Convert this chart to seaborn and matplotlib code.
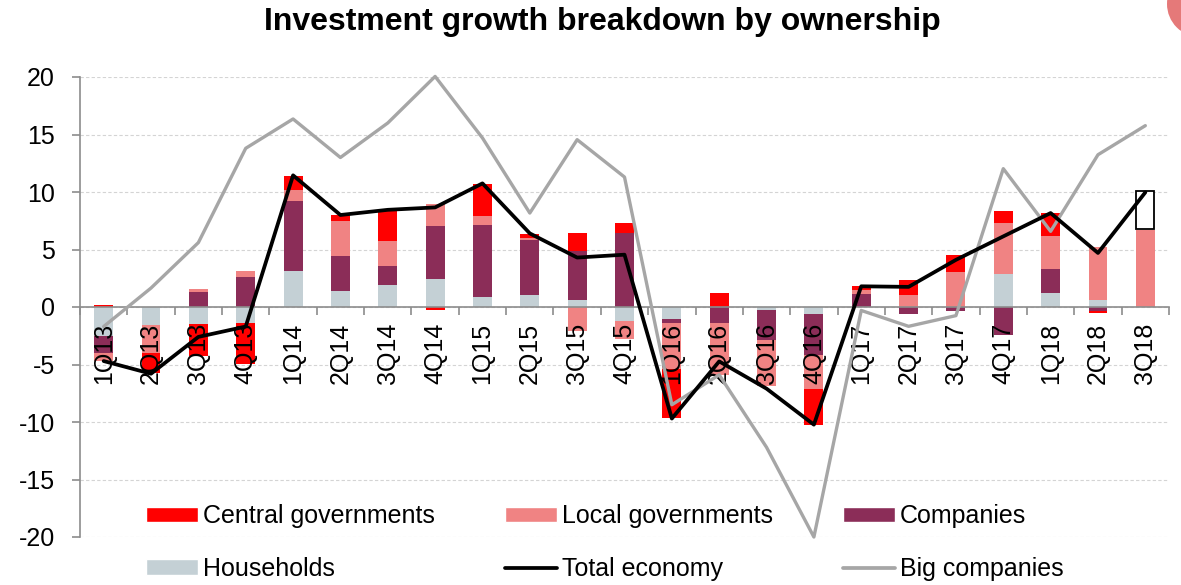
import numpy as np
import matplotlib
matplotlib.use("Agg")
import matplotlib.pyplot as plt
from matplotlib.patches import Patch, Ellipse
from matplotlib.lines import Line2D
from matplotlib.ticker import FixedLocator, MultipleLocator
import seaborn as sns

# Quarterly investment growth contributions (percentage points)
quarters = ["1Q13", "2Q13", "3Q13", "4Q13", "1Q14", "2Q14", "3Q14", "4Q14",
            "1Q15", "2Q15", "3Q15", "4Q15", "1Q16", "2Q16", "3Q16", "4Q16",
            "1Q17", "2Q17", "3Q17", "4Q17", "1Q18", "2Q18", "3Q18"]

central_gov = [0.15, -1.75, -2.75, -3.6, 1.22, 0.55, 2.64, -0.29,
               2.81, 0.38, 1.59, 0.84, -4.2, 1.2, 0.0, -3.1,
               0.35, 1.3, 1.45, 1.04, 2.03, -0.15, 0.0]
local_gov = [-0.72, -2.45, 0.32, 0.58, 1.01, 2.99, 2.17, 1.94,
             0.81, 0.2, -2.1, -1.5, -4.06, -4.55, -4.06, -2.99,
             0.38, 1.01, 3.04, 4.43, 2.84, 4.55, 6.72]
companies = [-1.45, 0.0, 1.28, 2.58, 6.06, 3.04, 1.65, 4.58,
             6.26, 4.78, 4.26, 6.43, -0.35, -1.39, -2.6, -3.57,
             1.13, -0.61, -0.38, -2.41, 2.12, -0.38, 0.0]
households = [-2.55, -1.55, -1.48, -1.39, 3.13, 1.42, 1.94, 2.43,
              0.84, 1.01, 0.58, -1.25, -1.01, 0.0, -0.23, -0.58,
              0.0, 0.0, 0.0, 2.9, 1.19, 0.64, 0.0]

total_economy = [-4.7, -5.8, -2.6, -1.7, 11.45, 8.0, 8.45, 8.66,
                 10.75, 6.4, 4.3, 4.55, -9.7, -4.73, -7.1, -10.23,
                 1.8, 1.75, 4.1, 6.14, 8.17, 4.7, 9.97]
big_companies = [-1.7, 1.65, 5.6, 13.8, 16.35, 13.0, 16.0, 20.05,
                 14.7, 8.17, 14.55, 11.3, -8.5, -5.9, -12.2, -20.0,
                 -0.3, -1.68, -0.75, 12.03, 6.58, 13.24, 15.77]

y_ticks = [-20, -15, -10, -5, 0, 5, 10, 15, 20]

# Stacking order from the axis outwards, with colours and legend names
components = [
    ("Households", households, "#c4d0d5"),
    ("Companies", companies, "#8b2d58"),
    ("Local governments", local_gov, "#f08383"),
    ("Central governments", central_gov, "#ff0000"),
]

sns.set_theme(style="white")
plt.rcParams["font.family"] = ["Liberation Sans", "DejaVu Sans"]
plt.rcParams["font.size"] = 18
for key in ("text.color", "axes.labelcolor", "xtick.color", "ytick.color"):
    plt.rcParams[key] = "black"

fig = plt.figure(figsize=(11.81, 5.85), dpi=100)
ax = fig.add_axes([80 / 1181, 48 / 585, 1089 / 1181, 460 / 585])

x = np.arange(len(quarters))
bar_w = 0.40
pos_base = np.zeros(len(quarters))
neg_base = np.zeros(len(quarters))
for name, vals, color in components:
    v = np.asarray(vals, dtype=float)
    pos = np.where(v > 0, v, 0.0)
    neg = np.where(v < 0, v, 0.0)
    ax.bar(x, pos, bottom=pos_base, width=bar_w, color=color, linewidth=0, zorder=1)
    ax.bar(x, neg, bottom=neg_base, width=bar_w, color=color, linewidth=0, zorder=1)
    pos_base += pos
    neg_base += neg

# Part of the latest total not yet broken down by owner
last = len(quarters) - 1
ax.bar(x[last], total_economy[last] - pos_base[last], bottom=pos_base[last] + 0.1,
       width=bar_w * 0.95, facecolor="white", edgecolor="black", linewidth=1.3, zorder=1.5)

sns.lineplot(x=x, y=big_companies, ax=ax, color="#a6a6a6", linewidth=2.4,
             zorder=3, clip_on=False)
sns.lineplot(x=x, y=total_economy, ax=ax, color="black", linewidth=2.7,
             zorder=4, clip_on=False)

ax.set_xlim(-0.5, len(quarters) - 0.5)
ax.set_ylim(-20, 20)
ax.yaxis.set_major_locator(FixedLocator(y_ticks))
ax.set_yticklabels([str(t) for t in y_ticks])
ax.set_xticks(x)
ax.set_xticklabels(quarters)
ax.xaxis.set_minor_locator(MultipleLocator(1, offset=0.5))

for side in ("top", "right"):
    ax.spines[side].set_visible(False)
ax.spines["bottom"].set_position(("data", 0))
for side in ("left", "bottom"):
    ax.spines[side].set_color("#8c8c8c")
    ax.spines[side].set_linewidth(1.2)
    ax.spines[side].set_zorder(2)

ax.tick_params(axis="y", which="major", direction="out", length=6, width=1.2,
               color="#8c8c8c", pad=12, labelsize=18, left=True, labelcolor="black")
ax.tick_params(axis="x", which="major", length=0, pad=11.5, labelsize=18,
               labelrotation=90, labelcolor="black")
ax.tick_params(axis="x", which="minor", direction="out", length=6, width=1.2,
               color="#8c8c8c", bottom=True)

ax.yaxis.grid(True, color="#d4d4d4", linestyle=(0, (3, 2)), linewidth=0.8)
ax.xaxis.grid(False)
ax.set_axisbelow(True)
# quarter labels sit over the bars but under the lines
ax.xaxis.set_zorder(2.5)
ax.set_xlabel("")
ax.set_ylabel("")

fig.text(602 / 1181, 1 - 22 / 585, "Investment growth breakdown by ownership",
         ha="center", va="center", fontsize=23, fontweight="bold", color="black")

# Legend: row-wise reading order in a three-column layout
h_central = Patch(facecolor="#ff0000", label="Central governments")
h_local = Patch(facecolor="#f08383", label="Local governments")
h_comp = Patch(facecolor="#8b2d58", label="Companies")
h_house = Patch(facecolor="#c4d0d5", label="Households")
h_total = Line2D([], [], color="black", linewidth=2.7, label="Total economy")
h_big = Line2D([], [], color="#a6a6a6", linewidth=2.7, label="Big companies")
handles = [h_central, h_house, h_local, h_total, h_comp, h_big]
fig.legend(handles=handles, labels=[h.get_label() for h in handles], ncol=3,
           loc="upper left", bbox_to_anchor=(146 / 1181, 1 - 504 / 585),
           frameon=False, fontsize=18, handlelength=2.08, handleheight=0.56,
           handletextpad=0.2, columnspacing=2.8, labelspacing=1.15,
           borderpad=0, borderaxespad=0, labelcolor="black")

# Corner badge
fig.patches.append(Ellipse((1200 / 1181, 1 - 4 / 585), 66 / 1181, 66 / 585,
                           transform=fig.transFigure, facecolor="#e36b6b",
                           edgecolor="none", alpha=0.9, figure=fig))

fig.savefig("out.png", dpi=100)
